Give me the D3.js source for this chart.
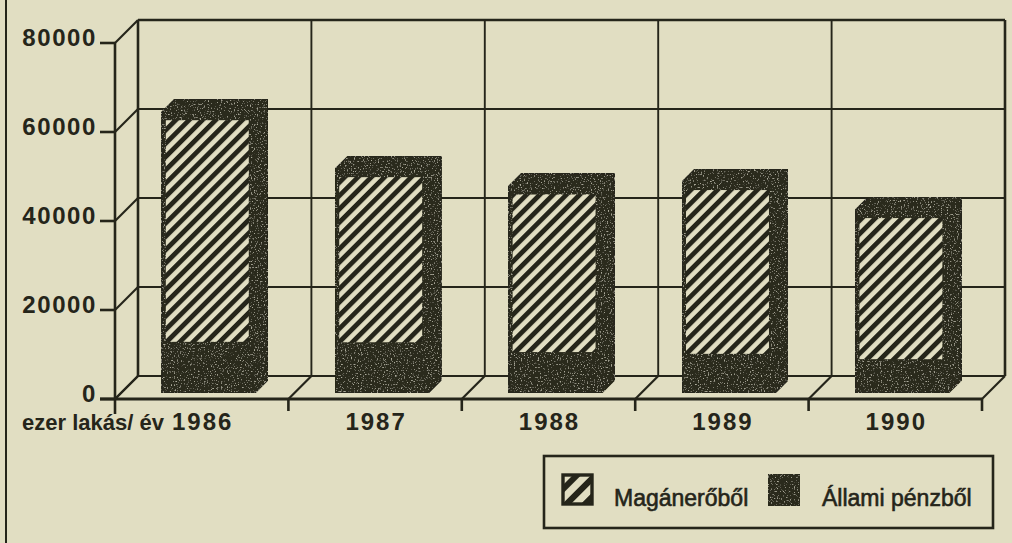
<!DOCTYPE html>
<html><head><meta charset="utf-8">
<script src="https://cdn.jsdelivr.net/npm/d3@7/dist/d3.min.js"></script>
<style>
html,body{margin:0;padding:0;background:#e1dec2;}
svg{display:block;}
text{font-family:"Liberation Sans",Arial,sans-serif;fill:#25251a;}
</style></head>
<body>
<svg id="chart" width="1012" height="543"></svg>
<script>
// ---- data ----
const years = ["1986", "1987", "1988", "1989", "1990"];
const allami = [11500, 11400, 9200, 8800, 7600];     // Állami pénzből (dark)
const magan  = [51600, 38900, 37200, 38600, 33500];  // Magánerőből (hatched)
const yTicks = [0, 20000, 40000, 60000, 80000];
const yTickLabels = ["0", "20000", "40000", "60000", "80000"];
const axisLabel = "ezer lakás/ év";
const legendLabels = ["Magánerőből", "Állami pénzből"];

// ---- layout ----
const ink = "#25251a";
const paper = "#e1dec2";
const svg = d3.select("#chart");
const x = d3.scaleBand().domain(years).range([115, 982]).padding(0);
const y = d3.scaleLinear().domain([0, 80000]).range([399, 43]);
const DX = 23, DY = -23;           // wall depth
const barOff = 0.27, barW = 0.536; // bar position inside band (fractions)
const barLift = 6, barDepth = 13;

const defs = svg.append("defs");
const P = 9.4;
const pat = defs.append("pattern").attr("id", "hatch")
  .attr("patternUnits", "userSpaceOnUse").attr("width", P).attr("height", P)
  .attr("patternTransform", "rotate(45)");
pat.append("rect").attr("width", P).attr("height", P).attr("fill", paper);
pat.append("line").attr("x1", 2.4).attr("x2", 2.4).attr("y1", 0).attr("y2", P)
  .attr("stroke", ink).attr("stroke-width", 4.8);
const pat2 = defs.append("pattern").attr("id", "hatchBig")
  .attr("patternUnits", "userSpaceOnUse").attr("width", 13).attr("height", 13)
  .attr("patternTransform", "rotate(45)");
pat2.append("rect").attr("width", 13).attr("height", 13).attr("fill", paper);
pat2.append("line").attr("x1", 3).attr("x2", 3).attr("y1", 0).attr("y2", 13)
  .attr("stroke", ink).attr("stroke-width", 6);

// light grain for the dark printed areas
const f = defs.append("filter").attr("id", "grain").attr("x", 0).attr("y", 0)
  .attr("width", 1).attr("height", 1);
f.append("feTurbulence").attr("type", "fractalNoise").attr("baseFrequency", 0.7)
  .attr("numOctaves", 2).attr("seed", 3).attr("result", "n");
f.append("feColorMatrix").attr("in", "n").attr("type", "matrix")
  .attr("values", "0 0 0 0 0.42  0 0 0 0 0.41  0 0 0 0 0.33  5 0 0 0 -3.0")
  .attr("result", "spots");
f.append("feComposite").attr("in", "spots").attr("in2", "SourceGraphic")
  .attr("operator", "in").attr("result", "spotsIn");
const fm = f.append("feMerge");
fm.append("feMergeNode").attr("in", "SourceGraphic");
fm.append("feMergeNode").attr("in", "spotsIn");

// column rule at the left edge
svg.append("line").attr("x1", 6).attr("x2", 6).attr("y1", 0).attr("y2", 543)
  .attr("stroke", ink).attr("stroke-width", 2);

const g = svg.append("g");
const x0 = x.range()[0], x1 = x.range()[1];

// back wall grid lines
yTicks.forEach(v => {
  g.append("line").attr("x1", x0 + DX).attr("x2", x1 + DX)
    .attr("y1", y(v) + DY).attr("y2", y(v) + DY)
    .attr("stroke", ink).attr("stroke-width", v === 80000 ? 2.6 : 1.9);
  // left wall depth lines
  g.append("line").attr("x1", x0).attr("x2", x0 + DX)
    .attr("y1", y(v)).attr("y2", y(v) + DY)
    .attr("stroke", ink).attr("stroke-width", 2.2);
});
const bounds = years.map(d => x(d)).concat([x1]);
bounds.forEach((bx, i) => {
  g.append("line").attr("x1", bx + DX).attr("x2", bx + DX)
    .attr("y1", y(80000) + DY).attr("y2", y(0) + DY)
    .attr("stroke", ink).attr("stroke-width", (i === 0 || i === bounds.length - 1) ? 2.6 : 1.9);
  // floor depth lines
  g.append("line").attr("x1", bx).attr("x2", bx + DX)
    .attr("y1", y(0)).attr("y2", y(0) + DY)
    .attr("stroke", ink).attr("stroke-width", 2.2);
  // x ticks
  g.append("line").attr("x1", bx).attr("x2", bx)
    .attr("y1", y(0)).attr("y2", y(0) + (i === 0 ? 15 : 12))
    .attr("stroke", ink).attr("stroke-width", 2.6);
});

// front y axis
g.append("line").attr("x1", x0).attr("x2", x0).attr("y1", y(80000)).attr("y2", y(0))
  .attr("stroke", ink).attr("stroke-width", 2.6);
// floor front line
g.append("line").attr("x1", 100).attr("x2", x1).attr("y1", y(0)).attr("y2", y(0))
  .attr("stroke", ink).attr("stroke-width", 3);
// y ticks + labels
yTicks.forEach((v, i) => {
  g.append("line").attr("x1", 100).attr("x2", x0).attr("y1", y(v)).attr("y2", y(v))
    .attr("stroke", ink).attr("stroke-width", 2.6);
  g.append("text").attr("x", 97).attr("y", y(v) + 3).attr("text-anchor", "end")
    .attr("font-size", 24).attr("font-weight", "bold").attr("letter-spacing", 1.6)
    .text(yTickLabels[i]);
});

// bars
years.forEach((yr, i) => {
  const bx = x(yr) + x.bandwidth() * barOff;
  const w = x.bandwidth() * barW;
  const total = allami[i] + magan[i];
  const yTop = y(total) - barLift, yBot = y(0) - barLift, yMid = y(allami[i]) - barLift;
  const d = barDepth;
  const pts = [[bx, yBot], [bx, yTop], [bx + d, yTop - d], [bx + w + d, yTop - d],
               [bx + w + d, yBot - d], [bx + w, yBot]];
  g.append("polygon").attr("points", pts.map(p => p.join(",")).join(" "))
    .attr("fill", "#2b2a1f").attr("stroke", ink).attr("stroke-width", 1.5)
    .attr("filter", "url(#grain)");
  g.append("rect").attr("x", bx + 4).attr("y", yTop + 8)
    .attr("width", w - 10).attr("height", yMid - (yTop + 8))
    .attr("fill", "url(#hatch)");
});

// x labels
years.forEach(yr => {
  g.append("text").attr("x", x(yr) + x.bandwidth() / 2 + 1).attr("y", 430)
    .attr("text-anchor", "middle").attr("font-size", 24).attr("font-weight", "bold")
    .attr("letter-spacing", 2).text(yr);
});
g.append("text").attr("x", 22).attr("y", 430).attr("font-size", 22)
  .attr("font-weight", "bold").text(axisLabel);

// legend
const lg = svg.append("g");
lg.append("rect").attr("x", 544).attr("y", 456).attr("width", 449).attr("height", 72)
  .attr("fill", "none").attr("stroke", ink).attr("stroke-width", 2.6);
lg.append("rect").attr("x", 563).attr("y", 475).attr("width", 29).attr("height", 29)
  .attr("fill", "url(#hatchBig)").attr("stroke", ink).attr("stroke-width", 3.4);
lg.append("text").attr("x", 614).attr("y", 506).attr("font-size", 23)
  .attr("stroke", ink).attr("stroke-width", 0.6).text(legendLabels[0]);
lg.append("rect").attr("x", 768).attr("y", 474).attr("width", 32).attr("height", 32)
  .attr("fill", "#2b2a1f").attr("filter", "url(#grain)");
lg.append("text").attr("x", 822).attr("y", 506).attr("font-size", 23)
  .attr("stroke", ink).attr("stroke-width", 0.6).text(legendLabels[1]);
</script>
</body></html>
